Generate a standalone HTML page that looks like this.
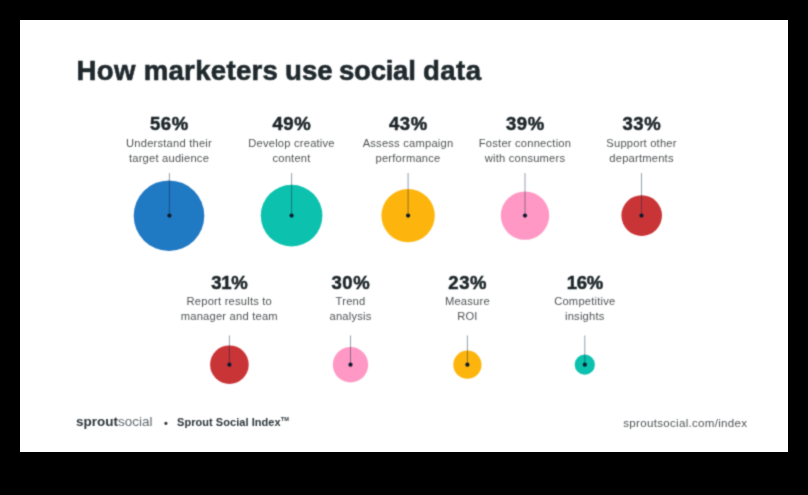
<!DOCTYPE html>
<html lang="en">
<head>
<meta charset="utf-8">
<title>How marketers use social data</title>
<style>
  html, body { margin: 0; padding: 0; background: #000; }
  body { width: 808px; height: 495px; overflow: hidden; position: relative;
         font-family: "Liberation Sans", sans-serif; }
  .card { position: absolute; left: 20px; top: 20px; width: 768px; height: 432px; background: #fff; }
  .inner { position: absolute; left: -20px; top: -20px; width: 808px; height: 495px; filter: url(#bl); }
  h1 { position: absolute; margin: 0; left: 76.5px; top: 56.2px; -webkit-text-stroke: 0.6px #1f292d; font-size: 27.6px; line-height: 30px;
       font-weight: bold; color: #1f292d; white-space: nowrap; letter-spacing: 0; }
  .item { position: absolute; width: 140px; margin-left: -70px; text-align: center; }
  .num { -webkit-text-stroke: 0.5px #1c2529; font-size: 18.5px; line-height: 20px; height: 20px; font-weight: bold; color: #1c2529; letter-spacing: 0.6px; padding-left: 0.6px; }
  .lbl { font-size: 11.2px; line-height: 14.7px; color: #4f5254; margin-top: 1.8px; letter-spacing: 0.2px; }
  .num.n1 { letter-spacing: -0.3px; padding-left: 0; }
  .c { position: absolute; border-radius: 50%; }
  .ln { position: absolute; width: 1px; background: #3c4a52; }
  .dot { position: absolute; width: 4px; height: 4px; border-radius: 50%; background: #141c20; }
  .foot { position: absolute; white-space: nowrap; }
</style>
</head>
<body>
<svg width="0" height="0" style="position:absolute"><filter id="bl" x="0" y="0" width="100%" height="100%" color-interpolation-filters="sRGB"><feConvolveMatrix order="3" kernelMatrix="0.0311 0.1141 0.0311 0.1141 0.4191 0.1141 0.0311 0.1141 0.0311" divisor="1" edgeMode="duplicate" preserveAlpha="false"/></filter></svg>
<div class="card"><div class="inner">
  <h1><span style="letter-spacing:0.4px">How</span> <span style="letter-spacing:0.3px">marketers</span> <span style="margin-left:-0.9px">use</span> <span style="margin-left:-1.3px;letter-spacing:-0.27px">social</span> <span style="margin-left:-0.2px;letter-spacing:0.4px">data</span></h1>

  <div class="item" style="left:169px; top:114px;"><div class="num">56%</div><div class="lbl">Understand their<br>target audience</div></div>
  <div class="item" style="left:291.5px; top:114px;"><div class="num">49%</div><div class="lbl">Develop creative<br>content</div></div>
  <div class="item" style="left:408px; top:114px;"><div class="num">43%</div><div class="lbl">Assess campaign<br>performance</div></div>
  <div class="item" style="left:525px; top:114px;"><div class="num">39%</div><div class="lbl">Foster connection<br>with consumers</div></div>
  <div class="item" style="left:641.5px; top:114px;"><div class="num">33%</div><div class="lbl">Support other<br>departments</div></div>

  <div class="item" style="left:229.3px; top:272.5px;"><div class="num n1">31%</div><div class="lbl">Report results to<br>manager and team</div></div>
  <div class="item" style="left:350.5px; top:272.5px;"><div class="num">30%</div><div class="lbl">Trend<br>analysis</div></div>
  <div class="item" style="left:467.4px; top:272.5px;"><div class="num">23%</div><div class="lbl">Measure<br>ROI</div></div>
  <div class="item" style="left:584.8px; top:272.5px;"><div class="num n1">16%</div><div class="lbl">Competitive<br>insights</div></div>

  <svg width="808" height="495" viewBox="0 0 808 495" style="position:absolute;left:0;top:0;">
    <g>
      <circle cx="169" cy="215.7" r="35.3" fill="#2079c3"/>
      <circle cx="291.6" cy="215.6" r="30.8" fill="#0cc1ae"/>
      <circle cx="408.1" cy="215.6" r="26.7" fill="#fdb50d"/>
      <circle cx="525" cy="215.6" r="24.2" fill="#ff98c4"/>
      <circle cx="641.7" cy="215.6" r="20.3" fill="#c93437"/>
      <circle cx="229.4" cy="364.7" r="19.3" fill="#c93437"/>
      <circle cx="350.5" cy="364.7" r="17.7" fill="#ff98c4"/>
      <circle cx="467.4" cy="364.7" r="14.1" fill="#fdb50d"/>
      <circle cx="584.8" cy="364.7" r="10.1" fill="#0cc1ae"/>
    </g>
    <g stroke="#0a2236" stroke-opacity="0.55" stroke-width="0.8">
      <line x1="169.4" y1="173" x2="169.4" y2="215.6"/>
      <line x1="291.6" y1="173" x2="291.6" y2="215.6"/>
      <line x1="408.1" y1="173" x2="408.1" y2="215.6"/>
      <line x1="525" y1="173" x2="525" y2="215.6"/>
      <line x1="641.5" y1="173" x2="641.5" y2="215.6"/>
      <line x1="229.4" y1="335.5" x2="229.4" y2="364.7"/>
      <line x1="350.5" y1="335.5" x2="350.5" y2="364.7"/>
      <line x1="467.4" y1="335.5" x2="467.4" y2="364.7"/>
      <line x1="584.8" y1="335.5" x2="584.8" y2="364.7"/>
    </g>
    <g fill="#0a1b30">
      <circle cx="169.4" cy="215.6" r="2.1"/>
      <circle cx="291.6" cy="215.6" r="2.1"/>
      <circle cx="408.1" cy="215.6" r="2.1"/>
      <circle cx="525" cy="215.6" r="2.1"/>
      <circle cx="641.5" cy="215.6" r="2.1"/>
      <circle cx="229.4" cy="364.7" r="2.1"/>
      <circle cx="350.5" cy="364.7" r="2.1"/>
      <circle cx="467.4" cy="364.7" r="2.1"/>
      <circle cx="584.8" cy="364.7" r="2.1"/>
    </g>
  </svg>

  <div class="foot" id="logo" style="left:76.3px; top:413.3px; font-size:12.8px; line-height:18px; color:#2a3439; transform-origin:0 0; transform:scaleX(1.055);"><b>sprout</b><span style="color:#5f686d;">social</span></div>
  <div class="foot" id="bul" style="left:164px; top:413.9px; font-size:11px; line-height:18px; color:#2a3439; font-weight:bold;">&bull;</div>
  <div class="foot" id="ssi" style="left:177px; top:413px; letter-spacing:0.05px; font-size:11px; line-height:18px; color:#2a3439; font-weight:bold;">Sprout Social Index<span style="font-size:5.6px; vertical-align:5.2px; letter-spacing:0.2px; line-height:0;">TM</span></div>
  <div class="foot" id="url" style="left:623.3px; top:414px; transform:translateY(-0.45px); font-size:11.6px; line-height:18px; color:#505457; letter-spacing:0.28px;">sproutsocial.com/index</div>
</div></div>
</body>
</html>
